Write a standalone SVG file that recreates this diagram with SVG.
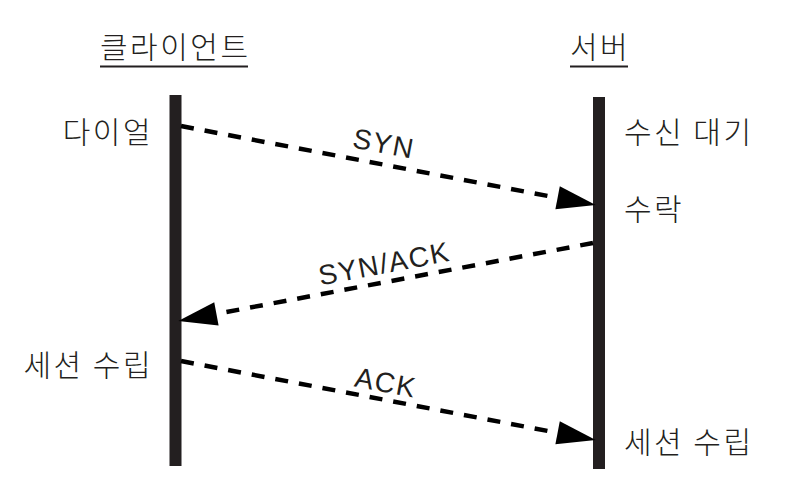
<svg xmlns="http://www.w3.org/2000/svg" width="796" height="488" viewBox="0 0 796 488">
<style>
.ko{font-family:"Noto Sans CJK KR","Noto Sans",sans-serif;font-size:30px;font-weight:300;letter-spacing:2.5px;fill:#231f20}
.lat{font-family:"Liberation Sans",Arial,sans-serif;font-size:28px;letter-spacing:1.5px;fill:#231f20}
.bar{fill:#231f20}
.ul{stroke:#231f20;stroke-width:2}
.msg{stroke:#000;stroke-width:4.5;stroke-dasharray:13 11;fill:none}
</style>
<defs>
<marker id="ah" markerUnits="userSpaceOnUse" markerWidth="40" markerHeight="30" viewBox="0 -12 34 24" refX="0" refY="0" orient="auto" overflow="visible">
<path d="M0,-10 L33,0 L0,10 Z" fill="#000"/>
</marker>
</defs>
<rect width="796" height="488" fill="#fff"/>
<g id="client">
<text class="ko" x="100" y="58">클라이언트</text>
<line class="ul" x1="100" y1="66.5" x2="248" y2="66.5"/>
<rect class="bar" x="169.5" y="95" width="12" height="371"/>
<text class="ko" x="153" y="143" text-anchor="end">다이얼</text>
<text class="ko" x="153" y="376" text-anchor="end">세션 수립</text>
</g>
<g id="server">
<text class="ko" x="570" y="58">서버</text>
<line class="ul" x1="570" y1="66.5" x2="628" y2="66.5"/>
<rect class="bar" x="593" y="97" width="12" height="372"/>
<text class="ko" x="624" y="143">수신 대기</text>
<text class="ko" x="624" y="220">수락</text>
<text class="ko" x="624" y="453">세션 수립</text>
</g>
<g id="connectors">
<line class="msg" x1="181" y1="126" x2="557.6" y2="197.8" marker-end="url(#ah)"/>
<line class="msg" x1="593" y1="243" x2="216.4" y2="313.9" marker-end="url(#ah)"/>
<line class="msg" x1="181" y1="361" x2="557.6" y2="432.8" marker-end="url(#ah)"/>
<text class="lat" transform="translate(382,153) rotate(10.8)" text-anchor="middle">SYN</text>
<text class="lat" transform="translate(386,273) rotate(-10.7)" text-anchor="middle">SYN/ACK</text>
<text class="lat" transform="translate(384,392) rotate(10.8)" text-anchor="middle">ACK</text>
</g>
</svg>
